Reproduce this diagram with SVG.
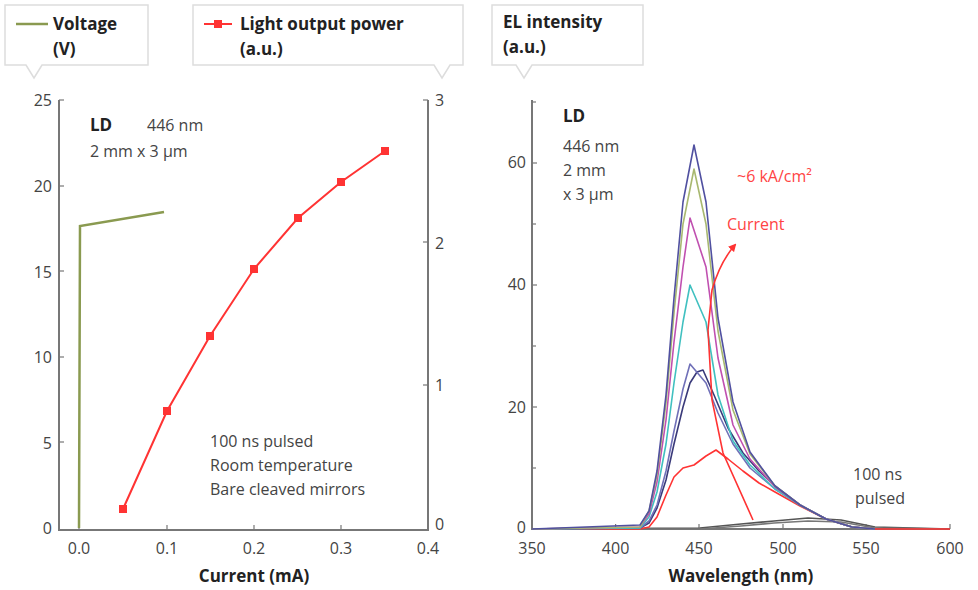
<svg xmlns="http://www.w3.org/2000/svg" width="978" height="590" viewBox="0 0 978 590">
<style>
text{font-family:"Open Sans","DejaVu Sans",sans-serif;font-size:16px;fill:#444}
.b{font-weight:bold;fill:#222;font-size:17px}
.ax{stroke:#777;stroke-width:2;fill:none}
.tk{stroke:#777;stroke-width:1.2}
.box{fill:#fff;stroke:#ddd;stroke-width:1.5}
.sp{fill:none;stroke-width:1.6;stroke-linejoin:round}
.r{fill:#f33}
</style>
<defs><marker id="ah" markerWidth="8" markerHeight="8" refX="6" refY="4" orient="auto" markerUnits="userSpaceOnUse"><path d="M0,0 L8,4 L0,8 z" fill="#f33"/></marker></defs>
<g id="legend-voltage">
<path class="box" d="M5,5 H148 V65 H42 L34,78 L26,65 H5 Z"/>
<line x1="16" y1="24" x2="48" y2="24" stroke="#8a9a50" stroke-width="2.5"/>
<text x="53" y="30" class="b">Voltage</text><text x="53" y="55" class="b">(V)</text>
</g>
<g id="legend-power">
<path class="box" d="M193,5 H463 V65 H450 L442,78 L434,65 H193 Z"/>
<line x1="204" y1="24" x2="232" y2="24" stroke="#f33" stroke-width="2"/><rect x="214" y="20" width="8" height="8" class="r"/>
<text x="240" y="30" class="b">Light output power</text><text x="240" y="55" class="b">(a.u.)</text>
</g>
<g id="legend-el">
<path class="box" d="M492,5 H643 V65 H532 L524,78 L516,65 H492 Z"/>
<text x="503" y="28" class="b">EL intensity</text><text x="503" y="53" class="b">(a.u.)</text>
</g>
<g id="left-axes">
<path class="ax" d="M59,100 V530 H428 V100"/>
<g class="tk"><line x1="59" y1="100" x2="64" y2="100"/><line x1="59" y1="186" x2="64" y2="186"/><line x1="59" y1="271" x2="64" y2="271"/><line x1="59" y1="357" x2="64" y2="357"/><line x1="59" y1="442" x2="64" y2="442"/>
<line x1="423" y1="100" x2="428" y2="100"/><line x1="423" y1="242" x2="428" y2="242"/><line x1="423" y1="385" x2="428" y2="385"/>
<line x1="79" y1="530" x2="79" y2="525"/><line x1="167" y1="530" x2="167" y2="525"/><line x1="254" y1="530" x2="254" y2="525"/><line x1="341" y1="530" x2="341" y2="525"/></g>
<g text-anchor="end"><text x="52" y="106">25</text><text x="52" y="192">20</text><text x="52" y="278">15</text><text x="52" y="363">10</text><text x="52" y="449">5</text><text x="52" y="534">0</text></g>
<text x="435" y="106">3</text><text x="435" y="249">2</text><text x="435" y="391">1</text><text x="435" y="530">0</text>
<g text-anchor="middle"><text x="79" y="554">0.0</text><text x="167" y="554">0.1</text><text x="254" y="554">0.2</text><text x="341" y="554">0.3</text><text x="428" y="554">0.4</text>
<text x="254" y="582" class="b">Current (mA)</text></g>
<text x="90" y="131" class="b">LD</text><text x="147" y="131">446 nm</text><text x="90" y="157">2 mm x 3 μm</text>
<text x="210" y="447">100 ns pulsed</text><text x="210" y="471">Room temperature</text><text x="210" y="495">Bare cleaved mirrors</text>
</g>
<g id="left-data">
<polyline points="79,528 80,226 164,212" fill="none" stroke="#8a9a50" stroke-width="2.5"/>
<polyline points="123,509 167,411 210,336 254,269 298,218 341,182 385,151" fill="none" stroke="#f33" stroke-width="2"/>
<g class="r"><rect x="119" y="505" width="8" height="8"/><rect x="163" y="407" width="8" height="8"/><rect x="206" y="332" width="8" height="8"/><rect x="250" y="265" width="8" height="8"/><rect x="294" y="214" width="8" height="8"/><rect x="337" y="178" width="8" height="8"/><rect x="381" y="147" width="8" height="8"/></g>
</g>
<g id="right-axes">
<path class="ax" d="M532,100 V529 H950"/>
<g class="tk"><line x1="532" y1="468" x2="536" y2="468"/><line x1="532" y1="407" x2="537" y2="407"/><line x1="532" y1="346" x2="536" y2="346"/><line x1="532" y1="285" x2="537" y2="285"/><line x1="532" y1="224" x2="536" y2="224"/><line x1="532" y1="163" x2="537" y2="163"/><line x1="532" y1="102" x2="536" y2="102"/>
<line x1="615.6" y1="529" x2="615.6" y2="524"/><line x1="699" y1="529" x2="699" y2="524"/><line x1="783" y1="529" x2="783" y2="524"/><line x1="866" y1="529" x2="866" y2="524"/><line x1="950" y1="529" x2="950" y2="524"/></g>
<g text-anchor="end"><text x="526" y="168">60</text><text x="526" y="290">40</text><text x="526" y="413">20</text><text x="526" y="533">0</text></g>
<g text-anchor="middle"><text x="532" y="554">350</text><text x="615.6" y="554">400</text><text x="699" y="554">450</text><text x="783" y="554">500</text><text x="866" y="554">550</text><text x="950" y="554">600</text>
<text x="741" y="582" class="b">Wavelength (nm)</text></g>
<text x="563" y="122" class="b">LD</text><text x="563" y="152">446 nm</text><text x="563" y="176">2 mm</text><text x="563" y="200">x 3 μm</text>
<text x="737" y="182" style="fill:#f44">~6 kA/cm²</text><text x="727" y="230" style="fill:#f44">Current</text>
<text x="853" y="480">100 ns</text><text x="855" y="504">pulsed</text>
</g>
<g id="spectra">
<polyline class="sp" stroke="#555" points="532,529 700,528 741,524 774,521 808,518 841,520 875,527 950,529"/>
<polyline class="sp" stroke="#777" points="532,529 700,529 741,526 774,523 808,521 841,522 875,528 950,529"/>
<polyline class="sp" stroke="#f33" points="532,529 640,529 649,527 657,517 666,495 674,477 683,468 694,465 706,456 716,450 728,459 743,471 759,483 775,492 800,506 826,519 852,527 875,529 950,529"/>
<polyline class="sp" stroke="#3a3a7a" points="532,529 640,528 649,523 657,508 666,480 674,444 683,407 690,383 697,372 703,370 714,395 728,428 743,453 759,471 775,486 800,505 826,519 852,527 875,529"/>
<polyline class="sp" stroke="#7070b8" points="532,529 640,528 649,521 657,505 666,471 674,431 683,389 690,364 706,383 718,413 733,444 750,468 775,489 800,505 826,519 852,527 875,529"/>
<polyline class="sp" stroke="#40c0c0" points="532,529 640,528 649,517 657,492 666,444 674,383 683,322 690,285 706,322 718,395 733,441 750,465 775,489 800,505 826,519 852,527 875,529"/>
<polyline class="sp" stroke="#c050b0" points="532,529 640,527 649,514 657,482 666,420 674,342 683,267 690,218 706,267 718,358 733,425 750,459 775,487 800,505 826,519 852,527 875,529"/>
<polyline class="sp" stroke="#a8b870" points="532,529 640,527 649,511 657,475 666,403 674,313 683,224 694,169 706,224 718,331 733,410 750,454 775,486 800,505 826,519 852,527 875,529"/>
<polyline class="sp" stroke="#5050a0" points="532,529 640,525 649,511 657,471 666,395 674,298 683,202 694,145 706,202 718,318 733,402 750,452 775,486 800,505 826,519 852,527 875,529"/>
</g>
<g id="connectors">
<path d="M753,520 L723,453 L712,400 L708,330 L712,290 Q720,262 735,245" fill="none" stroke="#f33" stroke-width="1.6" marker-end="url(#ah)"/>
</g>
</svg>
